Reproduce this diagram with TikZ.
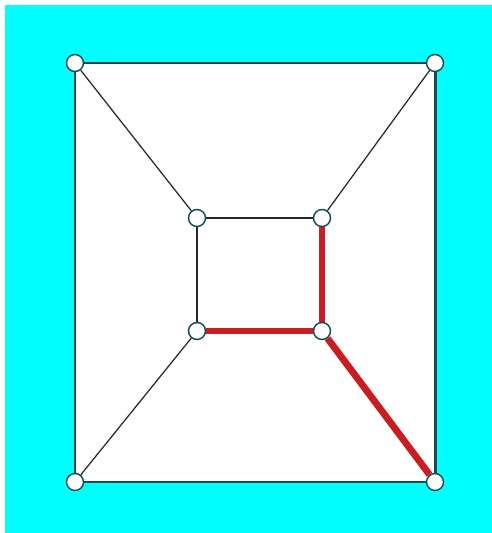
\documentclass[tikz,border=0pt]{standalone}
\usepackage{xcolor}
\usepackage{tikz}
\usetikzlibrary{positioning,backgrounds}
\definecolor{bg}{HTML}{00FFFF}
\definecolor{rim}{HTML}{0B4A50}
\definecolor{path}{HTML}{C81E23}

\begin{document}
\begin{tikzpicture}[x=0.02cm, y=-0.02cm,
  vtx/.style={circle, draw=rim, fill=white, thick, minimum size=0.34cm, inner sep=0pt},
  outer/.style={rim, line width=1.7pt},
  inner/.style={black!85, line width=1.1pt},
  spoke/.style={black!85, line width=0.7pt},
  hot/.style={path, line width=3.9pt}]
\useasboundingbox (0,0) rectangle (492,533);
\begin{scope}[on background layer]
\fill[white] (0,0) rectangle (492,533);
\fill[bg] (5,5) rectangle (492,533);
\fill[white] (75,63) rectangle (435,482);
\end{scope}
% outer square
\node[vtx] (ot1) at (75,63) {}; \node[vtx] (ot2) at (435,63) {};
\node[vtx] (ob1) at (75,482) {}; \node[vtx] (ob2) at (435,482) {};
% inner square
\node[vtx] (it1) at (197,218) {}; \node[vtx] (it2) at (322,218) {};
\node[vtx] (ib1) at (197,331) {}; \node[vtx] (ib2) at (322,331) {};
\begin{scope}[on background layer]
\draw[outer] (ot1) -- (ot2) -- (ob2) -- (ob1) -- (ot1);
\draw[inner] (it1) -- (it2); \draw[inner] (it1) -- (ib1);
\draw[spoke] (ot1) -- (it1); \draw[spoke] (ot2) -- (it2); \draw[spoke] (ob1) -- (ib1);
\draw[hot] (it2) -- (ib2); \draw[hot] (ib1) -- (ib2); \draw[hot] (ib2) -- (ob2);
\end{scope}
\end{tikzpicture}
\end{document}
